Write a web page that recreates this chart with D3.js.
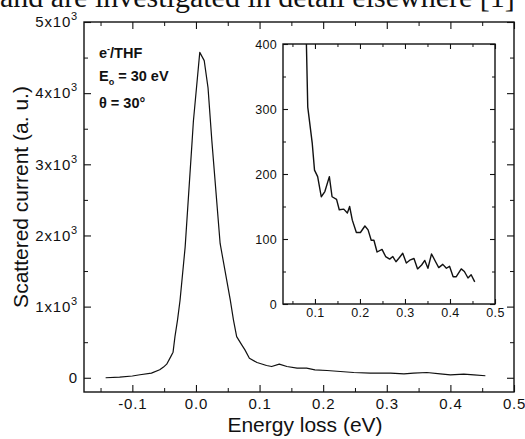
<!DOCTYPE html>
<html>
<head>
<meta charset="utf-8">
<script src="https://cdn.jsdelivr.net/npm/d3@7"></script>
<style>
    body { margin: 0; background: #fff; }
    svg { display: block; }
    text { font-family: "Liberation Sans", Arial, sans-serif; fill: #111; }
</style>
</head>
<body>
<svg id="chart" width="525" height="439"></svg>
<script>
// main spectrum (energy loss in eV, scattered current in a.u.)
var mainLoss = [-0.142, -0.120, -0.100, -0.088, -0.070, -0.057, -0.051, -0.046, -0.040, -0.036,
    -0.033, -0.029, -0.025, -0.017, -0.006, -0.004, 0.006, 0.013, 0.019, 0.025,
    0.038, 0.054, 0.059, 0.064, 0.072, 0.077, 0.084, 0.096, 0.111, 0.119,
    0.131, 0.143, 0.159, 0.174, 0.187, 0.206, 0.227, 0.248, 0.274, 0.306,
    0.327, 0.342, 0.363, 0.384, 0.400, 0.421, 0.437, 0.455];
var mainCurrent = [0, 10, 25, 42, 65, 112, 150, 191, 290, 360,
    578, 811, 1090, 1836, 3329, 3608, 4573, 4457, 4074, 3329,
    1888, 1090, 811, 578, 462, 392, 275, 214, 172, 158,
    191, 158, 135, 135, 112, 102, 88, 74, 65, 65,
    56, 65, 74, 56, 40, 52, 42, 28];

// inset: magnified tail
var insetLoss = [0.081, 0.084, 0.094, 0.099, 0.106, 0.114, 0.122, 0.132, 0.138, 0.148,
    0.154, 0.164, 0.172, 0.177, 0.183, 0.192, 0.201, 0.211, 0.218, 0.225,
    0.231, 0.238, 0.249, 0.257, 0.266, 0.273, 0.280, 0.286, 0.295, 0.303,
    0.312, 0.320, 0.328, 0.337, 0.344, 0.351, 0.359, 0.368, 0.375, 0.384,
    0.392, 0.399, 0.407, 0.414, 0.425, 0.432, 0.440, 0.447, 0.455];
var insetCurrent = [400, 303, 247, 206, 196, 165, 173, 196, 165, 161,
    145, 146, 140, 150, 129, 110, 110, 120, 114, 98,
    98, 80, 84, 73, 69, 73, 65, 70, 78, 63,
    68, 70, 54, 60, 67, 55, 77, 65, 56, 61,
    55, 58, 42, 42, 54, 50, 40, 45, 34];

var mainXTicks = [-0.1, 0.0, 0.1, 0.2, 0.3, 0.4, 0.5];
var mainXMinor = [-0.15, -0.05, 0.05, 0.15, 0.25, 0.35, 0.45];
var mainYTicks = [0, 1000, 2000, 3000, 4000, 5000];
var mainYMinor = [500, 1500, 2500, 3500, 4500];
var insetXTicks = [0.1, 0.2, 0.3, 0.4, 0.5];
var insetXMinor = [0.05, 0.15, 0.25, 0.35, 0.45];
var insetYTicks = [0, 100, 200, 300, 400];
var insetYMinor = [50, 150, 250, 350];

var svg = d3.select('#chart');

// clipped text line from the page above the figure
svg.append('text')
    .attr('x', 0)
    .attr('y', 7)
    .style('font-family', '"Liberation Serif", "Times New Roman", serif')
    .style('font-size', '30px')
    .text('and are investigated in detail elsewhere [1]');

function drawFrame(g, x, y, o) {
    var x0 = x.range()[0], x1 = x.range()[1];
    var y0 = y.range()[0], y1 = y.range()[1];

    // ticks on all four sides, pointing inwards
    var sides = [
        [d3.axisBottom(x), y0, 'x'],
        [d3.axisTop(x), y1, 'x'],
        [d3.axisLeft(y), x0, 'y'],
        [d3.axisRight(y), x1, 'y']
    ];
    sides.forEach(function (s, i) {
        var major = s[2] === 'x' ? o.xTicks : o.yTicks;
        var minor = s[2] === 'x' ? o.xMinor : o.yMinor;
        var tr = s[2] === 'x' ? 'translate(0,' + s[1] + ')' : 'translate(' + s[1] + ',0)';

        g.append('g').attr('transform', tr)
            .call(s[0].tickValues(minor).tickSize(-o.minor).tickFormat(''))
            .call(function (a) { a.select('.domain').remove(); });

        var ax = g.append('g').attr('transform', tr)
            .call(s[0].tickValues(major).tickSize(-o.major)
                .tickPadding(s[2] === 'x' ? o.padX : o.padY)
                .tickFormat(i === 0 ? o.xFormat : (i === 2 ? o.yFormat : '')));
        ax.select('.domain').remove();
        ax.selectAll('line').attr('stroke-width', 1.1);
        ax.selectAll('text')
            .style('font-size', o.font + 'px')
            .style('letter-spacing', o.spacing + 'px')
            .attr('fill', '#111');
        if (i === 2 && o.superscript) {
            ax.selectAll('text').each(function (d) {
                var t = d3.select(this);
                if (d === 0) return;
                t.text('');
                t.append('tspan').text(d / 1000 + 'x10');
                t.append('tspan').attr('dy', -7).style('font-size', (o.font - 4) + 'px').text('3');
            });
        }
    });
    g.selectAll('.tick line').attr('stroke', '#111');

    g.append('rect')
        .attr('x', x0).attr('y', y1)
        .attr('width', x1 - x0).attr('height', y0 - y1)
        .attr('fill', 'none').attr('stroke', '#111').attr('stroke-width', 1.4);
}

// main panel
var x = d3.scaleLinear().domain([-0.176, 0.5]).range([84, 514]);
var y = d3.scaleLinear().domain([-200, 5000]).range([392, 22]);

var gMain = svg.append('g');
drawFrame(gMain, x, y, {
    xTicks: mainXTicks, xMinor: mainXMinor, yTicks: mainYTicks, yMinor: mainYMinor,
    major: 7, minor: 4, padX: 6, padY: 6, font: 15, spacing: 0.8, superscript: true,
    xFormat: function (d) { return d3.format('.1f')(d).replace('\u2212', '-'); },
    yFormat: function (d) { return d; }
});

var line = d3.line()
    .x(function (d) { return x(d[0]); })
    .y(function (d) { return y(d[1]); });

gMain.append('path')
    .datum(d3.zip(mainLoss, mainCurrent))
    .attr('fill', 'none')
    .attr('stroke', '#111')
    .attr('stroke-width', 1.2)
    .attr('stroke-linejoin', 'round')
    .attr('d', line);

// labels inside the main panel
var ann = gMain.append('g')
    .style('font-weight', 'bold')
    .style('font-size', '14.5px');
var t1 = ann.append('text').attr('x', 99).attr('y', 58);
t1.append('tspan').text('e');
t1.append('tspan').attr('dy', -6).style('font-size', '9px').text('-');
t1.append('tspan').attr('dy', 6).text('/THF');
var t2 = ann.append('text').attr('x', 99).attr('y', 81);
t2.append('tspan').text('E');
t2.append('tspan').attr('dy', 4).style('font-size', '9px').text('o');
t2.append('tspan').attr('dy', -4).text(' = 30 eV');
ann.append('text').attr('x', 99).attr('y', 108).text('\u03b8 = 30\u00b0');

// axis titles
svg.append('text')
    .attr('x', 305).attr('y', 432)
    .attr('text-anchor', 'middle')
    .style('font-size', '21px')
    .text('Energy loss (eV)');

svg.append('text')
    .attr('transform', 'translate(28,197) rotate(-90)')
    .attr('text-anchor', 'middle')
    .style('font-size', '21px')
    .text('Scattered current (a. u.)');

// inset panel
var xi = d3.scaleLinear().domain([0.029, 0.5]).range([283, 495]);
var yi = d3.scaleLinear().domain([0, 400]).range([304, 44]);

var gInset = svg.append('g');
gInset.append('rect')
    .attr('x', 283).attr('y', 44).attr('width', 212).attr('height', 260)
    .attr('fill', '#fff');
drawFrame(gInset, xi, yi, {
    xTicks: insetXTicks, xMinor: insetXMinor, yTicks: insetYTicks, yMinor: insetYMinor,
    major: 5, minor: 3, padX: 4, padY: 6, font: 12.5, spacing: 0.3, superscript: false,
    xFormat: d3.format('.1f'),
    yFormat: function (d) { return d; }
});

var lineInset = d3.line()
    .x(function (d) { return xi(d[0]); })
    .y(function (d) { return yi(d[1]); });

gInset.append('path')
    .datum(d3.zip(insetLoss, insetCurrent))
    .attr('fill', 'none')
    .attr('stroke', '#111')
    .attr('stroke-width', 1.4)
    .attr('stroke-linejoin', 'round')
    .attr('d', lineInset);
</script>
</body>
</html>
